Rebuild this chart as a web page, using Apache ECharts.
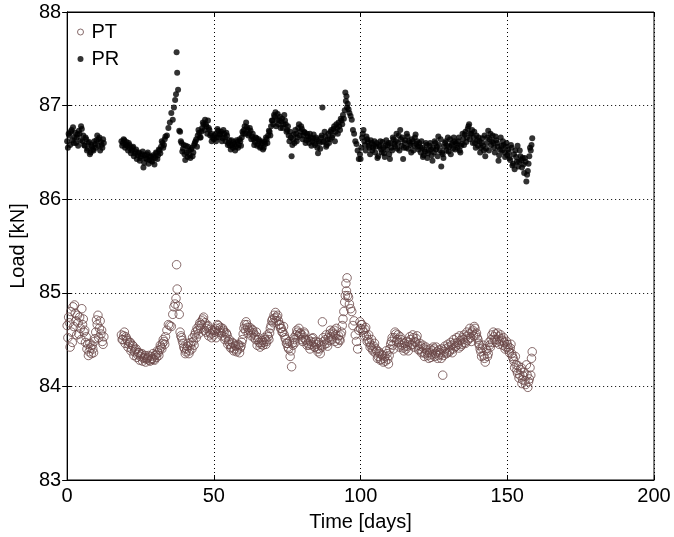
<!DOCTYPE html>
<html>
<head>
<meta charset="utf-8">
<script src="https://cdn.jsdelivr.net/npm/echarts@6/dist/echarts.min.js"></script>
<style>
html,body{margin:0;padding:0;background:#fff;}
#chart{width:674px;height:537px;}
</style>
</head>
<body>
<div id="chart"></div>
<script>
// ---- data ----
const seriesNames = ['PT', 'PR'];
const xRange = [0, 200];
const xStep = 50;
const yRange = [83, 88];
const yStep = 1;

const days = [
  // pass 1
  0,0.5,1,1.5,2,2.5,3,3.5,4,4.5,5,5.5,6,6.5,7,7.5,8,8.5,9,9.5,10,10.5,11,11.5,12,12.5,
  18.5,19,19.5,20,20.5,21,21.5,22,22.5,23,23.5,24,24.5,25,25.5,26,26.5,27,27.5,28,28.5,29,29.5,30,30.5,31,31.5,32,32.5,33,33.5,
  34,34.5,35,35.5,36,36.4,36.8,37.1,37.3,37.5,37.8,38.2,
  38.5,39,39.5,40,40.5,41,41.5,42,42.5,43,43.5,44,44.5,45,45.5,46,46.5,47,47.5,48,48.5,49,49.5,
  50,50.5,51,51.5,52,52.5,53,53.5,54,54.5,55,55.5,56,56.5,57,57.5,58,58.5,59,59.5,
  60,60.5,61,61.5,62,62.5,63,63.5,64,64.5,65,65.5,66,66.5,67,67.5,68,68.5,69,69.5,
  70,70.5,71,71.5,72,72.5,73,73.5,74,74.5,75,75.5,76,76.5,77,77.5,78,78.5,79,79.5,
  80,80.5,81,81.5,82,82.5,83,83.5,84,84.5,85,85.5,86,86.5,87,87.5,88,88.5,89,89.5,
  90,90.5,91,91.5,92,92.5,93,93.5,
  94,94.3,94.6,94.8,95,95.2,95.4,95.6,95.9,96.2,96.6,97,97.4,97.8,98.2,98.6,99,99.4,99.8,
  100,100.5,101,101.5,102,102.5,103,103.5,104,104.5,105,105.5,106,106.5,107,107.5,108,108.5,109,109.5,
  110,110.5,111,111.5,112,112.5,113,113.5,114,114.5,115,115.5,116,116.5,117,117.5,118,118.5,119,119.5,
  120,120.5,121,121.5,122,122.5,123,123.5,124,124.5,125,125.5,126,126.5,127,127.5,128,128.5,129,129.5,
  130,130.5,131,131.5,132,132.5,133,133.5,134,134.5,135,135.5,136,136.5,137,137.5,138,138.5,139,139.5,
  140,140.5,141,141.5,142,142.5,143,143.5,144,144.5,145,145.5,146,146.5,147,147.5,148,148.5,149,149.5,
  150,150.5,151,151.5,152,152.5,153,153.5,154,154.5,155,155.5,156,156.5,157,157.5,158,158.5,
  // pass 2 (in-between samples)
  0.25,0.75,1.25,1.75,2.25,2.75,3.25,3.75,4.25,4.75,5.25,5.75,6.25,6.75,7.25,7.75,8.25,8.75,9.25,9.75,10.25,10.75,11.25,11.75,12.25,
  18.75,19.25,19.75,20.25,20.75,21.25,21.75,22.25,22.75,23.25,23.75,24.25,24.75,25.25,25.75,26.25,26.75,27.25,27.75,28.25,28.75,29.25,29.75,30.25,30.75,31.25,31.75,32.25,32.75,33.25,
  38.75,39.25,39.75,40.25,40.75,41.25,41.75,42.25,42.75,43.25,43.75,44.25,44.75,45.25,45.75,46.25,46.75,47.25,47.75,48.25,48.75,49.25,
  50.25,50.75,51.25,51.75,52.25,52.75,53.25,53.75,54.25,54.75,55.25,55.75,56.25,56.75,57.25,57.75,58.25,58.75,59.25,59.75,
  60.25,60.75,61.25,61.75,62.25,62.75,63.25,63.75,64.25,64.75,65.25,65.75,66.25,66.75,67.25,67.75,68.25,68.75,69.25,69.75,
  70.25,70.75,71.25,71.75,72.25,72.75,73.25,73.75,74.25,74.75,75.25,75.75,76.25,76.75,77.25,77.75,78.25,78.75,79.25,79.75,
  80.25,80.75,81.25,81.75,82.25,82.75,83.25,83.75,84.25,84.75,85.25,85.75,86.25,86.75,87.25,87.75,88.25,88.75,89.25,89.75,
  90.25,90.75,91.25,91.75,92.25,92.75,93.25,93.75,
  100.25,100.75,101.25,101.75,102.25,102.75,103.25,103.75,104.25,104.75,105.25,105.75,106.25,106.75,107.25,107.75,108.25,108.75,109.25,109.75,
  110.25,110.75,111.25,111.75,112.25,112.75,113.25,113.75,114.25,114.75,115.25,115.75,116.25,116.75,117.25,117.75,118.25,118.75,119.25,119.75,
  120.25,120.75,121.25,121.75,122.25,122.75,123.25,123.75,124.25,124.75,125.25,125.75,126.25,126.75,127.25,127.75,128.25,128.75,129.25,129.75,
  130.25,130.75,131.25,131.75,132.25,132.75,133.25,133.75,134.25,134.75,135.25,135.75,136.25,136.75,137.25,137.75,138.25,138.75,139.25,139.75,
  140.25,140.75,141.25,141.75,142.25,142.75,143.25,143.75,144.25,144.75,145.25,145.75,146.25,146.75,147.25,147.75,148.25,148.75,149.25,149.75,
  150.25,150.75,151.25,151.75,152.25,152.75,153.25,153.75,154.25,154.75,155.25,155.75,156.25,156.75,157.25,157.75,158.25
];

const ptLoad = [
  // pass 1
  84.65,84.74,84.42,84.58,84.85,84.87,84.70,84.76,84.56,84.62,84.83,84.72,84.60,84.53,84.45,84.37,84.41,84.44,84.36,84.51,84.71,84.76,84.62,84.56,84.48,84.53,
  84.55,84.50,84.58,84.53,84.49,84.45,84.47,84.40,84.43,84.37,84.40,84.34,84.36,84.32,84.35,84.30,84.33,84.29,84.31,84.28,84.32,84.30,84.29,84.33,84.31,84.36,84.39,84.42,84.46,84.48,84.53,
  84.60,84.66,84.65,84.64,84.77,84.85,84.88,84.94,85.30,85.04,84.86,84.77,
  84.58,84.52,84.46,84.40,84.37,84.43,84.35,84.44,84.40,84.48,84.55,84.52,84.60,84.65,84.62,84.70,84.74,84.68,84.62,84.65,84.58,84.56,84.60,
  84.55,84.60,84.62,84.65,84.60,84.57,84.62,84.58,84.52,84.55,84.48,84.45,84.42,84.46,84.40,84.43,84.39,84.44,84.41,84.47,
  84.56,84.66,84.69,84.63,84.60,84.58,84.61,84.57,84.55,84.58,84.50,84.47,84.45,84.49,84.47,84.50,84.48,84.53,84.57,84.65,
  84.72,84.76,84.79,84.74,84.70,84.66,84.62,84.58,84.55,84.50,84.46,84.40,84.32,84.21,84.44,84.50,84.55,84.58,84.62,84.57,
  84.55,84.52,84.56,84.49,84.46,84.44,84.48,84.51,84.47,84.42,84.45,84.37,84.40,84.44,84.69,84.48,84.50,84.46,84.52,84.56,
  84.53,84.58,84.60,84.55,84.51,84.54,84.49,84.58,
  84.72,84.80,84.90,84.97,85.10,85.02,85.16,84.97,84.95,84.88,84.83,84.80,84.65,84.70,84.55,84.48,84.40,84.60,84.69,
  84.62,84.66,84.58,84.61,84.54,84.50,84.47,84.44,84.40,84.43,84.36,84.38,84.32,84.35,84.29,84.33,84.30,84.27,84.35,84.24,
  84.40,84.48,84.44,84.52,84.56,84.50,84.47,84.53,84.44,84.41,84.46,84.40,84.43,84.47,84.50,84.45,84.52,84.48,84.51,84.44,
  84.40,84.43,84.37,84.41,84.35,84.39,84.33,84.36,84.31,84.38,84.40,84.35,84.37,84.33,84.36,84.30,84.12,84.37,84.40,84.36,
  84.42,84.39,84.44,84.40,84.46,84.43,84.47,84.41,84.49,84.45,84.50,84.47,84.53,84.49,84.56,84.52,84.58,84.54,84.62,84.57,
  84.50,84.44,84.37,84.41,84.33,84.26,84.38,84.35,84.44,84.50,84.47,84.53,84.56,84.50,84.53,84.48,84.51,84.44,84.47,84.42,
  84.45,84.39,84.41,84.35,84.30,84.20,84.23,84.14,84.09,84.18,84.03,84.11,84.06,84.23,83.99,84.08,84.12,84.37,
  // pass 2
  84.52,84.68,84.80,84.47,84.64,84.78,84.55,84.68,84.74,84.50,84.66,84.58,84.47,84.40,84.33,84.46,84.35,84.40,84.48,84.58,84.66,84.52,84.70,84.60,84.45,
  84.50,84.54,84.46,84.51,84.42,84.47,84.38,84.44,84.33,84.39,84.31,84.36,84.28,84.34,84.27,84.31,84.26,84.30,84.33,84.27,84.29,84.35,84.28,84.34,84.38,84.33,84.44,84.40,84.50,84.45,
  84.54,84.49,84.42,84.35,84.40,84.46,84.38,84.47,84.52,84.44,84.58,84.62,84.56,84.68,84.66,84.72,84.60,84.58,84.64,84.54,84.61,84.52,
  84.58,84.52,84.66,84.58,84.63,84.54,84.60,84.50,84.57,84.45,84.50,84.41,84.47,84.38,84.44,84.37,84.45,84.36,84.43,84.50,
  84.62,84.60,84.66,84.57,84.63,84.54,84.60,84.52,84.50,84.44,84.52,84.42,84.47,84.44,84.52,84.45,84.55,84.50,84.62,84.70,
  84.68,84.73,84.70,84.76,84.66,84.62,84.58,84.64,84.52,84.46,84.42,84.48,84.38,84.46,84.52,84.47,84.60,84.54,84.56,84.50,
  84.48,84.58,84.50,84.44,84.50,84.40,84.45,84.52,84.42,84.48,84.40,84.47,84.35,84.42,84.52,84.45,84.55,84.43,84.49,84.60,
  84.50,84.56,84.48,84.62,84.46,84.50,84.55,84.65,
  84.66,84.60,84.54,84.63,84.48,84.55,84.42,84.50,84.38,84.46,84.40,84.30,84.37,84.28,84.34,84.26,84.32,84.38,84.29,84.33,
  84.45,84.52,84.40,84.58,84.48,84.55,84.42,84.50,84.47,84.38,84.43,84.48,84.38,84.53,84.44,84.55,84.42,84.47,84.54,84.39,
  84.46,84.36,84.44,84.32,84.42,84.36,84.30,84.40,84.34,84.42,84.32,84.42,84.30,84.39,84.34,84.40,84.33,84.43,84.35,84.45,
  84.37,84.47,84.36,84.50,84.42,84.52,84.45,84.54,84.43,84.52,84.55,84.46,84.58,84.51,84.62,84.48,84.60,84.64,84.55,84.52,
  84.46,84.40,84.32,84.44,84.30,84.40,84.32,84.47,84.42,84.55,84.58,84.50,84.47,84.57,84.45,84.55,84.49,84.52,84.40,84.48,
  84.42,84.36,84.45,84.32,84.27,84.32,84.17,84.22,84.12,84.20,84.07,84.15,84.02,84.12,84.05,84.20,84.30
];

const prLoad = [
  // pass 1
  86.62,86.70,86.58,86.74,86.77,86.66,86.60,86.69,86.73,86.63,86.75,86.68,86.57,86.64,86.54,86.61,86.50,86.56,86.52,86.59,86.63,86.57,86.66,86.61,86.55,86.60,
  86.62,86.60,86.63,86.58,86.57,86.60,86.54,86.52,86.56,86.49,86.53,86.47,86.50,86.44,86.48,86.34,86.47,86.43,86.50,86.42,86.46,86.40,86.45,86.44,86.49,86.47,86.52,86.56,86.60,86.58,86.67,
  86.68,86.76,86.82,86.92,86.85,86.98,87.06,87.12,87.57,87.35,87.17,86.73,
  86.72,86.60,86.54,86.48,86.57,86.45,86.52,86.44,86.55,86.50,86.60,86.64,86.68,86.71,86.66,86.76,86.80,86.85,86.78,86.84,86.74,86.70,86.66,
  86.64,86.70,86.66,86.73,86.69,86.72,86.65,86.70,86.62,86.68,86.60,86.57,86.63,86.55,86.59,86.56,86.61,86.58,86.62,86.66,
  86.70,86.78,86.82,86.74,86.70,86.73,86.67,86.64,86.61,86.65,86.59,86.62,86.56,86.60,86.55,86.59,86.64,86.68,86.72,86.78,
  86.84,86.90,86.93,86.85,86.80,86.88,86.83,86.76,86.90,86.80,86.74,86.68,86.72,86.46,86.64,86.60,86.70,86.66,86.80,86.72,
  86.75,86.68,86.71,86.63,86.67,86.60,86.66,86.62,86.69,86.58,86.64,86.49,86.60,86.66,86.98,86.62,86.67,86.58,86.70,86.64,
  86.74,86.68,86.78,86.72,86.76,86.82,86.74,86.84,
  86.90,86.86,86.95,87.14,87.05,87.10,86.98,87.02,86.96,86.92,86.89,86.85,86.74,86.70,86.62,86.59,86.52,86.43,86.48,
  86.43,86.66,86.74,86.58,86.67,86.61,86.55,86.63,86.52,86.58,86.50,86.60,86.46,86.56,86.53,86.61,86.49,86.57,86.53,86.60,
  86.43,86.55,86.66,86.59,86.62,86.54,86.68,86.74,86.57,86.43,86.60,86.55,86.67,86.62,86.58,86.64,86.52,86.66,86.59,86.56,
  86.60,86.50,86.55,86.47,86.51,86.58,86.49,86.57,86.53,86.41,86.50,86.60,86.56,86.67,86.52,86.35,86.48,86.56,86.62,86.57,
  86.51,86.64,86.58,86.54,86.62,86.60,86.55,86.66,86.50,86.59,86.64,86.69,86.61,86.75,86.80,86.70,86.74,86.66,86.60,86.68,
  86.57,86.62,86.55,86.65,86.52,86.46,86.60,86.73,86.64,86.58,86.68,86.55,86.67,86.60,86.41,86.53,86.57,86.62,86.50,86.56,
  86.47,86.50,86.42,86.55,86.38,86.32,86.45,86.57,86.40,86.46,86.34,86.37,86.44,86.19,86.30,86.46,86.52,86.65,
  // pass 2
  86.55,86.68,86.72,86.63,86.60,86.71,86.66,86.57,86.70,86.78,86.62,86.58,86.66,86.52,86.60,86.48,86.58,86.53,86.62,86.55,86.68,86.64,86.52,86.58,86.64,
  86.57,86.64,86.55,86.61,86.52,86.58,86.49,86.55,86.46,86.51,86.43,86.49,86.41,86.46,86.51,86.39,86.44,86.48,86.38,86.45,86.41,86.47,86.37,86.50,86.43,86.53,86.49,86.62,86.55,86.64,
  86.62,86.51,86.58,86.42,86.50,86.56,86.47,86.53,86.46,86.58,86.62,86.56,86.74,86.66,86.72,86.82,86.74,86.80,86.70,86.76,86.68,86.62,
  86.68,86.62,86.75,86.66,86.70,86.62,86.74,86.66,86.71,86.58,86.63,86.53,86.58,86.61,86.52,86.63,86.55,86.64,86.57,86.72,
  86.74,86.70,86.77,86.68,86.76,86.64,86.70,86.58,86.66,86.57,86.64,86.55,86.62,86.53,86.61,86.66,86.60,86.73,86.68,86.84,
  86.80,86.88,86.78,86.91,86.84,86.76,86.86,86.80,86.84,86.72,86.78,86.62,86.66,86.58,86.69,86.74,86.62,86.76,86.68,86.78,
  86.64,86.72,86.60,86.70,86.64,86.70,86.57,86.65,86.60,86.66,86.55,86.62,86.54,86.68,86.61,86.72,86.56,86.64,86.60,86.72,
  86.66,86.75,86.62,86.80,86.70,86.78,86.86,86.80,
  86.55,86.70,86.62,86.52,86.64,86.57,86.48,86.60,86.55,86.62,86.56,86.44,86.58,86.62,86.50,86.55,86.45,86.63,86.58,86.48,
  86.60,86.52,86.64,86.56,86.70,86.60,86.52,86.64,86.66,86.55,86.63,86.70,86.54,86.60,86.50,86.62,86.57,86.69,86.62,86.53,
  86.56,86.62,86.45,86.53,86.60,86.44,86.52,86.60,86.47,86.55,86.62,86.53,86.46,86.58,86.64,86.50,86.44,86.60,86.52,86.66,
  86.56,86.48,86.60,86.66,86.53,86.58,86.62,86.52,86.57,86.70,86.58,86.72,86.66,86.78,86.64,86.70,86.60,86.72,86.55,86.63,
  86.66,86.50,86.60,86.57,86.68,86.54,86.66,86.52,86.70,86.62,86.60,86.50,86.63,86.56,86.47,86.66,86.52,86.58,86.45,86.60,
  86.53,86.44,86.58,86.36,86.48,86.52,86.40,86.35,86.52,86.42,86.44,86.28,86.40,86.26,86.38,86.55,86.58
];

const ptPoints = days.map((d, i) => [d, ptLoad[i]]);
const prPoints = days.map((d, i) => [d, prLoad[i]]);
if (ptLoad.length !== days.length || prLoad.length !== days.length) {
  console.error('length mismatch', days.length, ptLoad.length, prLoad.length);
}

const FONT = 'Liberation Sans, Arial, Helvetica, sans-serif';
const chart = echarts.init(document.getElementById('chart'), null, {renderer: 'canvas'});

const dotted = {color: '#000', width: 1, type: [1, 3]};

chart.setOption({
  animation: false,
  backgroundColor: '#fff',
  textStyle: {fontFamily: FONT, color: '#000'},
  grid: {left: 61, right: 20, top: 12, bottom: 56, show: true, borderColor: '#000', borderWidth: 1, backgroundColor: 'transparent'},
  legend: {
    orient: 'vertical',
    left: 72,
    top: 17,
    itemWidth: 6,
    itemHeight: 6,
    itemGap: 7,
    textStyle: {fontFamily: FONT, fontSize: 20, color: '#000', padding: [0, 0, 0, 3]},
    data: [
      {name: seriesNames[0], icon: 'circle', itemStyle: {color: 'transparent', borderColor: '#6a4747', borderWidth: 1}},
      {name: seriesNames[1], icon: 'circle', itemStyle: {color: '#000', borderWidth: 0}}
    ]
  },
  xAxis: [{
    type: 'value', min: xRange[0], max: xRange[1], interval: xStep,
    name: 'Time [days]', nameLocation: 'middle', nameGap: 32,
    nameTextStyle: {fontFamily: FONT, fontSize: 20, color: '#000'},
    axisLine: {show: true, lineStyle: {color: '#000', width: 1}},
    axisTick: {show: true, inside: true, length: 5, lineStyle: {color: '#000'}},
    axisLabel: {fontFamily: FONT, fontSize: 20, color: '#000', margin: 6},
    splitLine: {show: true, lineStyle: dotted}
  }, {
    type: 'value', position: 'top', min: xRange[0], max: xRange[1], interval: xStep,
    axisLine: {show: true, lineStyle: {color: '#000', width: 1}},
    axisTick: {show: true, inside: true, length: 5, lineStyle: {color: '#000'}},
    axisLabel: {show: false}, splitLine: {show: false}
  }],
  yAxis: [{
    type: 'value', min: yRange[0], max: yRange[1], interval: yStep,
    name: 'Load [kN]', nameLocation: 'middle', nameGap: 34, nameRotate: 90,
    nameTextStyle: {fontFamily: FONT, fontSize: 20, color: '#000'},
    axisLine: {show: true, lineStyle: {color: '#000', width: 1}},
    axisTick: {show: true, inside: true, length: 5, lineStyle: {color: '#000'}},
    axisLabel: {fontFamily: FONT, fontSize: 20, color: '#000', margin: 6},
    splitLine: {show: true, lineStyle: dotted}
  }, {
    type: 'value', position: 'right', min: yRange[0], max: yRange[1], interval: yStep,
    axisLine: {show: true, lineStyle: {color: '#000', width: 1}},
    axisTick: {show: true, inside: true, length: 5, lineStyle: {color: '#000'}},
    axisLabel: {show: false}, splitLine: {show: false}
  }],
  series: [{
    name: seriesNames[0], type: 'scatter', xAxisIndex: 0, yAxisIndex: 0,
    symbol: 'circle', symbolSize: 8.5,
    itemStyle: {color: 'transparent', borderColor: '#6a4747', borderWidth: 1},
    emphasis: {disabled: true},
    data: ptPoints
  }, {
    name: seriesNames[1], type: 'scatter', xAxisIndex: 0, yAxisIndex: 0,
    symbol: 'circle', symbolSize: 6,
    itemStyle: {color: '#000', borderWidth: 0},
    emphasis: {disabled: true},
    data: prPoints
  }]
});
</script>
</body>
</html>
